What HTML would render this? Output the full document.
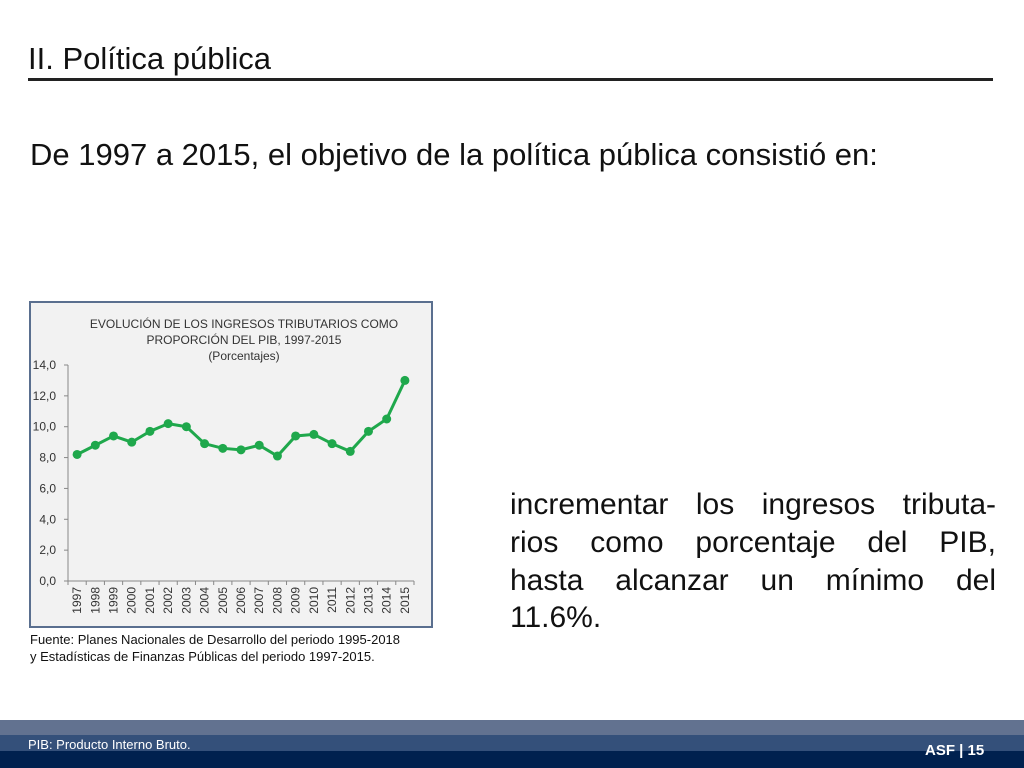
<!DOCTYPE html>
<html><head><meta charset="utf-8"><style>
body{margin:0;width:1024px;height:768px;position:relative;background:#fff;font-family:"Liberation Sans",sans-serif;overflow:hidden}
.abs{position:absolute}
.jl{position:absolute;left:510px;width:486px;font-size:30px;color:#111;text-align:justify;text-align-last:justify;white-space:nowrap}
</style></head><body>
<div class="abs" style="left:28px;top:41px;font-size:31px;color:#111">II. Política pública</div>
<div class="abs" style="left:28px;top:78px;width:965px;height:3px;background:#222"></div>
<div class="abs" style="left:30px;top:137px;font-size:31px;color:#111">De 1997 a 2015, el objetivo de la política pública consistió en:</div>
<div>
<div class="jl" style="top:488px;white-space:normal">incrementar los ingresos tributa-</div>
<div class="jl" style="top:526px;white-space:normal">rios como porcentaje del PIB,</div>
<div class="jl" style="top:564px;white-space:normal">hasta alcanzar un mínimo del</div>
<div class="abs" style="left:510px;top:601px;font-size:30px;color:#111">11.6%.</div>
</div>
<svg class="abs" style="left:0;top:0" width="1024" height="700">
<rect x="30" y="302" width="402" height="325" fill="#f2f2f2" stroke="#5a6f8f" stroke-width="2"/>
<g font-size="12" fill="#333" text-anchor="middle">
<text x="244" y="328">EVOLUCIÓN DE LOS INGRESOS TRIBUTARIOS COMO</text>
<text x="244" y="344">PROPORCIÓN DEL PIB, 1997-2015</text>
<text x="244" y="360">(Porcentajes)</text></g>
<g id="axes"></g><g id="marks"></g>
</svg>
<div class="abs" style="left:30px;top:631px;font-size:13px;line-height:17px;color:#111">Fuente: Planes Nacionales de Desarrollo del periodo 1995-2018<br>y Estadísticas de Finanzas Públicas del periodo 1997-2015.</div>
<div class="abs" style="left:0;top:720px;width:1024px;height:15px;background:#627290"></div>
<div class="abs" style="left:0;top:735px;width:1024px;height:16px;background:#34507a"></div>
<div class="abs" style="left:0;top:751px;width:1024px;height:17px;background:#00214f"></div>
<div class="abs" style="left:28px;top:737px;font-size:13px;color:#fff">PIB: Producto Interno Bruto.</div>
<div class="abs" style="left:925px;top:742px;font-size:15px;font-weight:bold;color:#fff">ASF | 15</div>
<script>
const years=["1997","1998","1999","2000","2001","2002","2003","2004","2005","2006","2007","2008","2009","2010","2011","2012","2013","2014","2015"];
const values=[8.2,8.8,9.4,9.0,9.7,10.2,10.0,8.9,8.6,8.5,8.8,8.1,9.4,9.5,8.9,8.4,9.7,10.5,13.0];
const yTicks=[0,2,4,6,8,10,12,14];
const NS="http://www.w3.org/2000/svg";
const x0=68,x1=414,yb=581,yt=365,ymax=14;
const step=(x1-x0)/years.length;
const X=i=>x0+step*(i+0.5);
const Y=v=>yb-(v/ymax)*(yb-yt);
const ax=document.getElementById('axes'),mk=document.getElementById('marks');
function el(t,a,p){const e=document.createElementNS(NS,t);for(const k in a)e.setAttribute(k,a[k]);p.appendChild(e);return e;}
const yl=el('line',{x1:x0,y1:yt,x2:x0,y2:yb,stroke:'#888'},ax);


const xl=el('line',{x1:x0,y1:yb,x2:x1,y2:yb,stroke:'#888'},ax);


yTicks.forEach(v=>{
 el('line',{x1:x0-4,y1:Y(v),x2:x0,y2:Y(v),stroke:'#888'},ax);
 const t=el('text',{x:x0-12,y:Y(v)+4,'font-size':12,fill:'#333','text-anchor':'end'},ax);
 t.textContent=v.toFixed(1).replace('.',',');
 
 
});
years.forEach((y,i)=>{
 el('line',{x1:x0+step*i,y1:yb,x2:x0+step*i,y2:yb+4,stroke:'#888'},ax);
 const t=el('text',{x:0,y:0,'font-size':12,fill:'#333','text-anchor':'end',transform:`translate(${X(i)+4},${yb+6}) rotate(-90)`},ax);
 t.textContent=y;
 
 
});
el('line',{x1:x1,y1:yb,x2:x1,y2:yb+4,stroke:'#888'},ax);
const ln=el('polyline',{points:values.map((v,i)=>X(i)+','+Y(v)).join(' '),fill:'none',stroke:'#1fa84c','stroke-width':3},mk);


values.forEach((v,i)=>{
 const c=el('circle',{cx:X(i),cy:Y(v),r:4.5,fill:'#1fa84c'},mk);
 
 
});
</script>
</body></html>
